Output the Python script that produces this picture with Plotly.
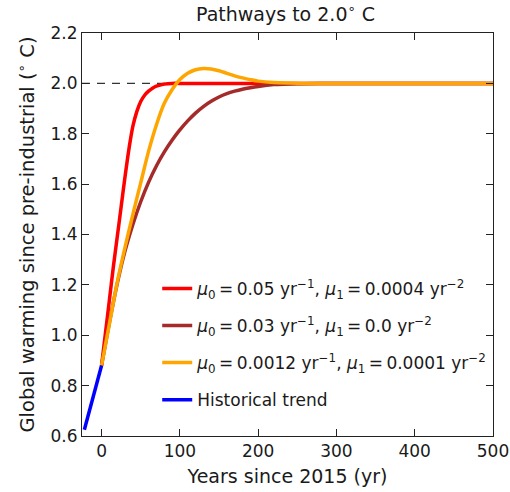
import plotly.graph_objects as go

# ---- data ----
TARGET = 2.0

hist_years = [-22, 0]
hist_warming = [0.625, 0.88]

red_years = [0, 5, 10, 15, 20, 25, 30, 35, 40, 45, 50, 55, 60, 65, 70, 80, 90, 100, 150, 200, 300, 400, 500]
red_warming = [0.88, 1.01, 1.14, 1.27, 1.39, 1.51, 1.63, 1.74, 1.83, 1.888, 1.928, 1.953, 1.969, 1.981, 1.989,
               1.997, 2.0, 2.0, 2.0, 2.0, 2.0, 2.0, 2.0]

brown_years = [0, 10, 20, 30, 40, 50, 60, 70, 80, 90, 100, 110, 120, 130, 140, 150, 160, 170, 180, 190,
               200, 220, 250, 280, 300, 400, 500]
brown_warming = [0.88, 1.05, 1.205, 1.335, 1.44, 1.53, 1.607, 1.672, 1.727, 1.774, 1.815, 1.851, 1.882,
                 1.908, 1.929, 1.946, 1.959, 1.969, 1.977, 1.983, 1.988, 1.995, 1.999, 2.0, 2.0, 2.0, 2.0]

orange_years = [0, 10, 20, 30, 40, 50, 60, 70, 80, 90, 100, 110, 120, 130, 140, 150, 160, 170, 180, 190,
                200, 220, 240, 260, 300, 400, 500]
orange_warming = [0.88, 1.045, 1.21, 1.35, 1.48, 1.605, 1.73, 1.835, 1.92, 1.975, 2.015, 2.04, 2.054, 2.059,
                  2.057, 2.05, 2.04, 2.03, 2.022, 2.015, 2.009, 2.003, 2.001, 2.0, 2.0, 2.0, 2.0]

EQ = "\u2009=\u2009"
labels = [
    f"<i>μ</i><sub>0</sub>{EQ}0.05 yr<sup>−1</sup>, <i>μ</i><sub>1</sub>{EQ}0.0004 yr<sup>−2</sup>",
    f"<i>μ</i><sub>0</sub>{EQ}0.03 yr<sup>−1</sup>, <i>μ</i><sub>1</sub>{EQ}0.0 yr<sup>−2</sup>",
    f"<i>μ</i><sub>0</sub>{EQ}0.0012 yr<sup>−1</sup>, <i>μ</i><sub>1</sub>{EQ}0.0001 yr<sup>−2</sup>",
    "Historical trend",
]
colors = ["#ff0000", "#a52a2a", "#ffa500", "#0000ff"]

x_ticks = [0, 100, 200, 300, 400, 500]
y_ticks = [0.6, 0.8, 1.0, 1.2, 1.4, 1.6, 1.8, 2.0, 2.2]

FONT = "DejaVu Sans"
TXT = "#1a1a1a"

fig = go.Figure()
series = [(red_years, red_warming), (brown_years, brown_warming),
          (orange_years, orange_warming), (hist_years, hist_warming)]
for i, ((xs, ys), name, col) in enumerate(zip(series, labels, colors)):
    fig.add_trace(go.Scatter(
        x=xs, y=ys, mode="lines", name=name, legendgroup=f"g{i}",
        line=dict(color=col, width=3.5, shape="spline", smoothing=0.8),
    ))

fig.add_hline(y=TARGET, line=dict(color="#333333", width=1.2, dash="8px,7px"), layer="below")

fig.update_layout(
    width=510, height=492,
    margin=dict(l=82, r=17, t=33, b=56, autoexpand=False),
    paper_bgcolor="white", plot_bgcolor="white",
    font=dict(family=FONT, color=TXT, size=17),
    title=dict(text="Pathways to 2.0<sup>∘</sup> C", x=0.56, xanchor="center",
               y=1 - 14 / 492, yanchor="middle", font=dict(size=19, family=FONT, color=TXT)),
    showlegend=True,
    legend=dict(x=0.183, xanchor="left", y=0.045, yanchor="bottom",
                bgcolor="rgba(0,0,0,0)", borderwidth=0,
                font=dict(size=17, family=FONT, color=TXT),
                traceorder="grouped", tracegroupgap=12, itemwidth=30),
)
fig.update_xaxes(
    range=[-25, 500], tickvals=x_ticks, ticks="inside", ticklen=7, tickwidth=1, tickcolor="#222",
    showline=True, linecolor="#222", linewidth=1, mirror="ticks", showgrid=False, zeroline=False,
    automargin=False,
    tickfont=dict(size=17, family=FONT, color=TXT),
    title=dict(text="Years since 2015 (yr)", font=dict(size=19, family=FONT, color=TXT), standoff=9),
)
fig.update_yaxes(
    range=[0.6, 2.2], tickvals=y_ticks, tickformat=".1f", ticks="inside", ticklen=7, tickwidth=1,
    tickcolor="#222", showline=True, linecolor="#222", linewidth=1, mirror="ticks",
    showgrid=False, zeroline=False, automargin=False,
    tickfont=dict(size=17, family=FONT, color=TXT),
    title=dict(text="Global warming since pre-industrial (<sup>∘</sup> C)",
               font=dict(size=19.5, family=FONT, color=TXT), standoff=10),
)

fig.write_html("out.html")
